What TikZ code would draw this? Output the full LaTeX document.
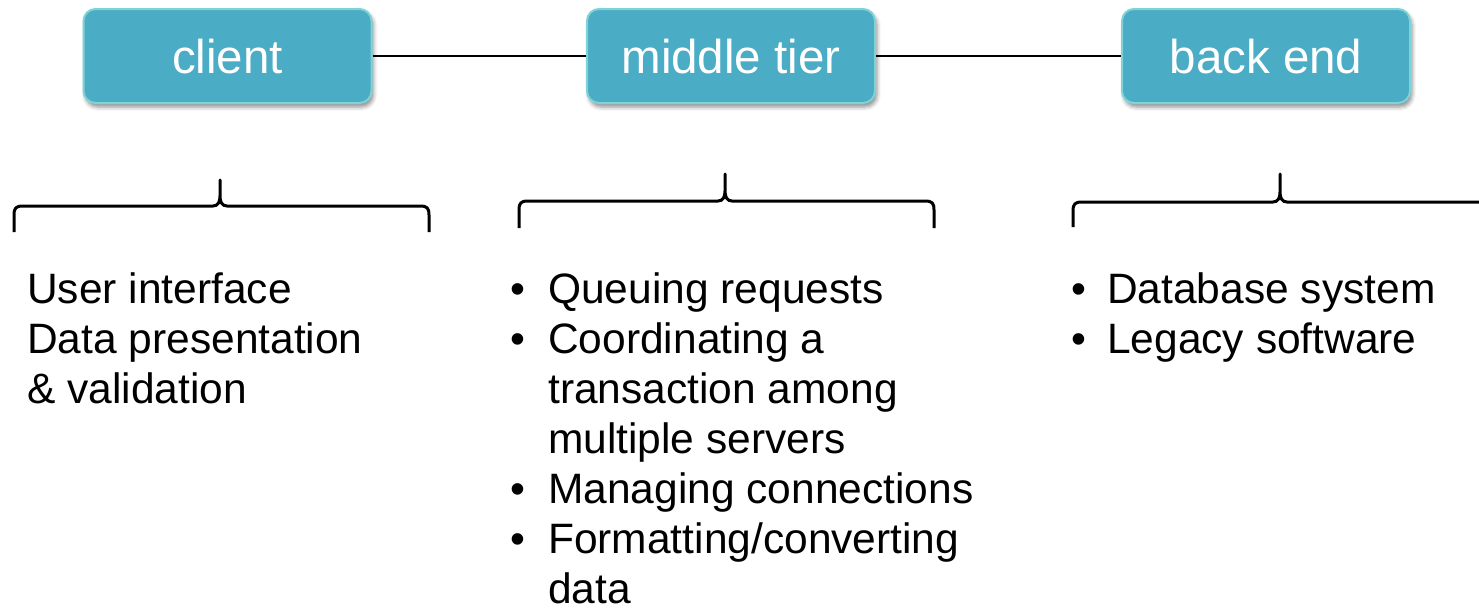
\documentclass[tikz,border=0pt]{standalone}
\usepackage{fontspec}
\setmainfont{Liberation Sans}
\usetikzlibrary{shadows.blur}

\definecolor{tierfill}{HTML}{4BACC6}
\definecolor{tierborder}{HTML}{7ED3D6}

% curly bracket opening downwards: left x, right x, tip x, tip y, bar y, foot y
\newcommand\tierbrace[6]{%
  \draw[bracket] (#1,#6) -- (#1,{#5+9})
    .. controls (#1,{#5+2}) and ({#1+2},#5) .. ({#1+9},#5)
    -- ({#3-7},#5)
    .. controls ({#3-2},#5) and (#3,{#5-4}) .. (#3,{#5-10})
    -- (#3,#4) -- (#3,{#5-10})
    .. controls (#3,{#5-4}) and ({#3+2},#5) .. ({#3+7},#5)
    -- ({#2-9},#5)
    .. controls ({#2-2},#5) and (#2,{#5+2}) .. (#2,{#5+9})
    -- (#2,#6);}

\begin{document}
\begin{tikzpicture}[x=1pt,y=-1pt,
  tier/.style={draw=tierborder, line width=2pt, fill=tierfill,
    rounded corners=12pt, minimum width=288pt, minimum height=94pt,
    inner sep=0pt, text=white, font=\fontsize{47.5}{57}\selectfont,
    text height=34pt, text depth=0pt,
    blur shadow={shadow xshift=2pt, shadow yshift=-4pt,
      shadow blur radius=4pt, shadow opacity=45}},
  link/.style={line width=2.5pt, black},
  bracket/.style={line width=3pt, black, line join=round},
  item/.style={anchor=base west, inner sep=0pt,
    font=\fontsize{42.5}{50}\selectfont},
  bullet/.style={anchor=base, inner sep=0pt,
    font=\fontsize{42.5}{50}\selectfont}]

\useasboundingbox (0,0) rectangle (1479,613);

% the three tiers
\node[tier] (client) at (227.5,56) {client};
\node[tier] (middle) at (731,56) {middle tier};
\node[tier] (back)   at (1266,56) {back end};

\draw[link] (client) -- (middle);
\draw[link] (middle) -- (back);

% brackets below each tier
\tierbrace{14}{429}{220}{180}{206}{232}
\tierbrace{519}{934}{725}{174}{201}{228}
\begin{scope}
  \clip (0,0) rectangle (1479,613);
  \tierbrace{1073}{1488}{1280}{174}{202}{227}
\end{scope}

% client duties
\node[item] (c1) at (27,303) {User interface};
\node[item] (c2) at (27,353) {Data presentation};
\node[item] (c3) at (27,403) {\& validation};

% middle tier duties
\node[bullet] (mb1) at (518,303) {•};
\node[item] (m1) at (548,303) {Queuing requests};
\node[bullet] (mb2) at (518,353) {•};
\node[item] (m2) at (548,353) {Coordinating a};
\node[item] (m3) at (548,403) {transaction among};
\node[item] (m4) at (548,453) {multiple servers};
\node[bullet] (mb3) at (518,503) {•};
\node[item] (m5) at (548,503) {Managing connections};
\node[bullet] (mb4) at (518,553) {•};
\node[item] (m6) at (548,553) {Formatting/converting};
\node[item] (m7) at (548,603) {data};

% back end duties
\node[bullet] (bb1) at (1079,303) {•};
\node[item] (b1) at (1107,303) {Database system};
\node[bullet] (bb2) at (1079,353) {•};
\node[item] (b2) at (1107,353) {Legacy software};
\end{tikzpicture}
\end{document}
